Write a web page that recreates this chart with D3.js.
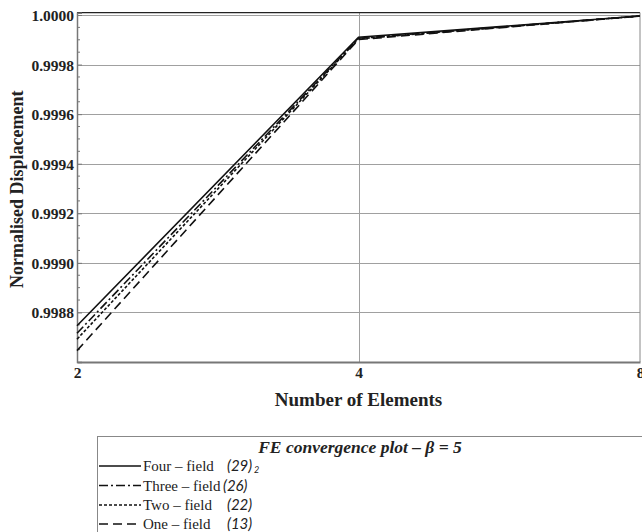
<!DOCTYPE html>
<html>
<head>
<meta charset="utf-8">
<script src="https://cdn.jsdelivr.net/npm/d3@7"></script>
<style>
  html, body { margin: 0; padding: 0; background: #fff; }
  svg { display: block; }
</style>
</head>
<body>
<svg id="chart" width="642" height="532"></svg>
<script>
// Element counts along the x axis
const elements = [2, 4, 8];

// Normalised displacement for each formulation
const fourField  = [0.998746, 0.999910, 0.999996];
const threeField = [0.998716, 0.999906, 0.999996];
const twoField   = [0.998692, 0.999904, 0.999996];
const oneField   = [0.998646, 0.999901, 0.999996];

// Legend entries
const seriesNames = ["Four – field", "Three – field", "Two – field", "One – field"];
const seriesRefs  = ["(29)", "(26)", "(22)", "(13)"];

// Tick labels
const xTickValues = [2, 4, 8];
const yTickValues = [0.9988, 0.9990, 0.9992, 0.9994, 0.9996, 0.9998, 1.0000];

const series = [
  { values: fourField,  dash: null },
  { values: threeField, dash: "9,3,2,3" },
  { values: twoField,   dash: "3,2" },
  { values: oneField,   dash: "9,5" }
];

const svg = d3.select("#chart");
const plot = { left: 77, right: 640, top: 12.7, bottom: 362 };

const x = d3.scaleLog().base(2).domain([2, 8]).range([plot.left, plot.right]);
const y = d3.scaleLinear().domain([0.9986, 1.0000093]).range([plot.bottom, plot.top]);

const serif = "'Liberation Serif', 'Times New Roman', serif";

// Gridlines
const grid = svg.append("g").attr("stroke", "#a0a0a0").attr("stroke-width", 1);
grid.selectAll("line.h").data(yTickValues).join("line")
  .attr("x1", plot.left).attr("x2", plot.right)
  .attr("y1", d => Math.round(y(d)) + 0.5).attr("y2", d => Math.round(y(d)) + 0.5);
grid.selectAll("line.v").data([4]).join("line")
  .attr("x1", d => Math.round(x(d)) + 0.5).attr("x2", d => Math.round(x(d)) + 0.5)
  .attr("y1", plot.top).attr("y2", plot.bottom);

// Frame
svg.append("line").attr("x1", plot.left).attr("x2", plot.right)
  .attr("y1", plot.top).attr("y2", plot.top).attr("stroke", "#222").attr("stroke-width", 1.2);
svg.append("line").attr("x1", plot.right).attr("x2", plot.right)
  .attr("y1", plot.top).attr("y2", plot.bottom).attr("stroke", "#888").attr("stroke-width", 1);

// Left axis with inward ticks
const yAxis = d3.axisLeft(y).tickValues(yTickValues)
  .tickFormat(d3.format(".4f")).tickSize(-5).tickPadding(3);
const gy = svg.append("g").attr("transform", `translate(${plot.left},0)`).call(yAxis);
gy.select(".domain").attr("stroke", "#777").attr("stroke-width", 1.5);
gy.selectAll(".tick line").attr("stroke", "#777");
gy.selectAll(".tick text")
  .attr("font-family", serif).attr("font-weight", "bold").attr("font-size", 15.5)
  .attr("fill", "#222").attr("dy", "0.35em");

// Minor ticks on the left axis
const minor = d3.range(0.99865, 1.0000, 0.00005)
  .filter(v => !yTickValues.some(t => Math.abs(t - v) < 1e-7));
svg.append("g").selectAll("line").data(minor).join("line")
  .attr("x1", plot.left).attr("x2", plot.left + 3)
  .attr("y1", d => y(d)).attr("y2", d => y(d))
  .attr("stroke", "#777").attr("stroke-width", 1);

// Bottom axis
const xAxis = d3.axisBottom(x).tickValues(xTickValues)
  .tickFormat(d3.format("d")).tickSize(0).tickPadding(5);
const gx = svg.append("g").attr("transform", `translate(0,${plot.bottom})`).call(xAxis);
gx.select(".domain").attr("stroke", "#777").attr("stroke-width", 2);
gx.selectAll(".tick text")
  .attr("font-family", serif).attr("font-weight", "bold").attr("font-size", 15.5)
  .attr("fill", "#222");

// Axis titles
svg.append("text")
  .attr("transform", `translate(23,${(plot.top + plot.bottom) / 2 + 2}) rotate(-90)`)
  .attr("text-anchor", "middle")
  .attr("font-family", serif).attr("font-weight", "bold").attr("font-size", 18)
  .attr("fill", "#222")
  .text("Normalised Displacement");

svg.append("text")
  .attr("x", (plot.left + plot.right) / 2).attr("y", 406)
  .attr("text-anchor", "middle")
  .attr("font-family", serif).attr("font-weight", "bold").attr("font-size", 19)
  .attr("fill", "#222")
  .text("Number of Elements");

// Series lines
const line = d3.line().x((d, i) => x(elements[i])).y(d => y(d));
svg.append("g").selectAll("path").data(series).join("path")
  .attr("d", s => line(s.values))
  .attr("fill", "none").attr("stroke", "#111").attr("stroke-width", 1.6)
  .attr("stroke-dasharray", s => s.dash);

// Legend
const legend = svg.append("g");
legend.append("rect")
  .attr("x", 97.5).attr("y", 436.5).attr("width", 560).attr("height", 120)
  .attr("fill", "none").attr("stroke", "#888").attr("stroke-width", 1);
legend.append("text")
  .attr("x", 360).attr("y", 452.5).attr("text-anchor", "middle")
  .attr("font-family", serif).attr("font-weight", "bold").attr("font-style", "italic")
  .attr("font-size", 17.5).attr("fill", "#222")
  .text("FE convergence plot – β = 5");

const rowY = [466, 485.5, 505, 524];
const rows = legend.selectAll("g.row").data(series).join("g")
  .attr("transform", (s, i) => `translate(0,${rowY[i]})`);
rows.append("line")
  .attr("x1", 99).attr("x2", 141).attr("y1", 0).attr("y2", 0)
  .attr("stroke", "#111").attr("stroke-width", 1.4)
  .attr("stroke-dasharray", s => s.dash);
rows.append("text")
  .attr("x", 143).attr("y", 5)
  .attr("font-family", serif).attr("font-size", 15).attr("fill", "#222")
  .text((s, i) => seriesNames[i]);
rows.append("text")
  .attr("x", (s, i) => i === 1 ? 223 : 227).attr("y", 5)
  .attr("font-family", "Lato, 'Open Sans', sans-serif").attr("font-style", "italic")
  .attr("font-size", 15).attr("fill", "#222")
  .text((s, i) => seriesRefs[i]);
rows.filter((s, i) => i === 0).append("text")
  .attr("x", 254).attr("y", 7)
  .attr("font-family", "Lato, 'Open Sans', sans-serif").attr("font-style", "italic")
  .attr("font-size", 9).attr("fill", "#222")
  .text("2");
</script>
</body>
</html>
